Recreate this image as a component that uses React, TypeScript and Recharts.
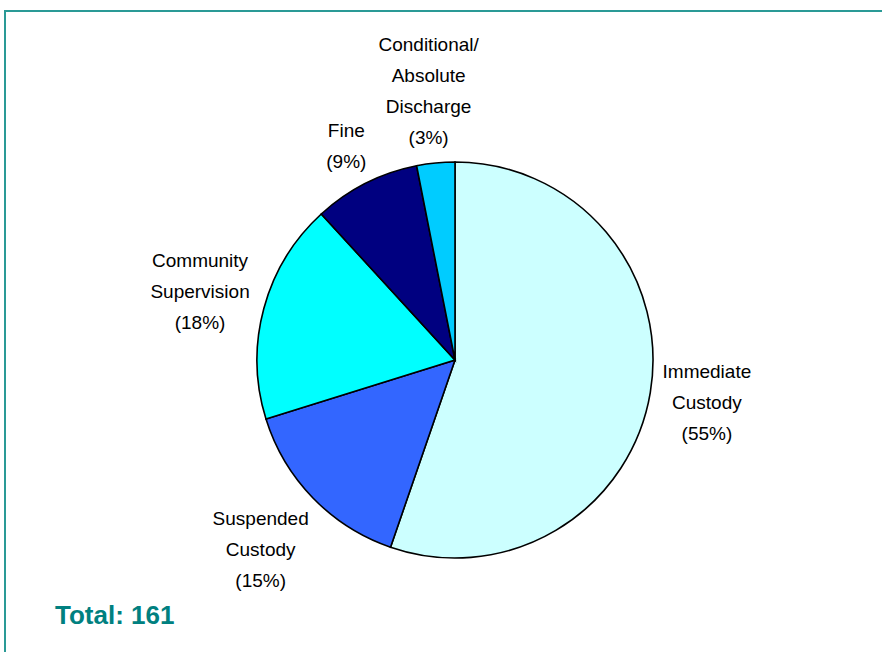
import { PieChart, Pie, Cell } from "recharts"

const categories = [
  ["Immediate", "Custody"],
  ["Suspended", "Custody"],
  ["Community", "Supervision"],
  ["Fine"],
  ["Conditional/", "Absolute", "Discharge"],
]
const counts = [89, 24, 29, 14, 5]
const colors = ["#CCFFFF", "#3366FF", "#00FFFF", "#000080", "#00CCFF"]
const totalLabel = "Total: 161"

const data = categories.map((lines, i) => ({ name: lines.join(" "), lines, value: counts[i] }))

const RAD = Math.PI / 180
const LINE_H = 31
const FONT = "'Liberation Sans', Arial, sans-serif"

let ctx: CanvasRenderingContext2D | null = null
const textWidth = (s: string) => {
  if (!ctx) ctx = document.createElement("canvas").getContext("2d")
  if (!ctx) return s.length * 9.5
  ctx.font = `19px ${FONT}`
  return ctx.measureText(s).width
}

const renderLabel = (props: any) => {
  const { cx, cy, midAngle, outerRadius, percent, index } = props
  const lines: string[] = [...categories[index], `(${Math.round(percent * 100)}%)`]
  const dx = Math.cos(-midAngle * RAD)
  const dy = Math.sin(-midAngle * RAD)
  const w = Math.max(...lines.map(textWidth))
  const h = lines.length * LINE_H
  const dist = outerRadius + 6 + Math.abs(dx) * (w / 2) + Math.abs(dy) * (h / 2)
  const x = cx + dx * dist
  const y = cy + dy * dist
  const top = y - ((lines.length - 1) * LINE_H) / 2 + 7
  return (
    <text x={x} y={top} textAnchor="middle" fill="#000" fontSize={19} fontFamily={FONT}>
      {lines.map((l, i) => (
        <tspan key={i} x={x} y={top + i * LINE_H}>
          {l}
        </tspan>
      ))}
    </text>
  )
}

export default function App() {
  return (
    <div style={{ position: "absolute", left: 0, top: 0, width: 882, height: 652, background: "#fff", overflow: "hidden" }}>
      <div
        style={{
          position: "absolute",
          left: 4,
          top: 10,
          right: -10,
          bottom: -10,
          borderTop: "2px solid #2A9A96",
          borderLeft: "2px solid #2A9A96",
        }}
      />
      <PieChart width={882} height={652} margin={{ top: 0, right: 0, bottom: 0, left: 0 }}>
        <Pie
          data={data}
          dataKey="value"
          nameKey="name"
          cx={455}
          cy={360}
          outerRadius={198}
          startAngle={90}
          endAngle={-270}
          stroke="#000"
          strokeWidth={1.6}
          label={renderLabel}
          labelLine={false}
          isAnimationActive={false}
        >
          {data.map((d, i) => (
            <Cell key={d.name} fill={colors[i]} />
          ))}
        </Pie>
      </PieChart>
      <div
        style={{
          position: "absolute",
          left: 55,
          top: 600,
          fontFamily: FONT,
          fontWeight: "bold",
          fontSize: 26,
          color: "#008080",
        }}
      >
        {totalLabel}
      </div>
    </div>
  )
}
